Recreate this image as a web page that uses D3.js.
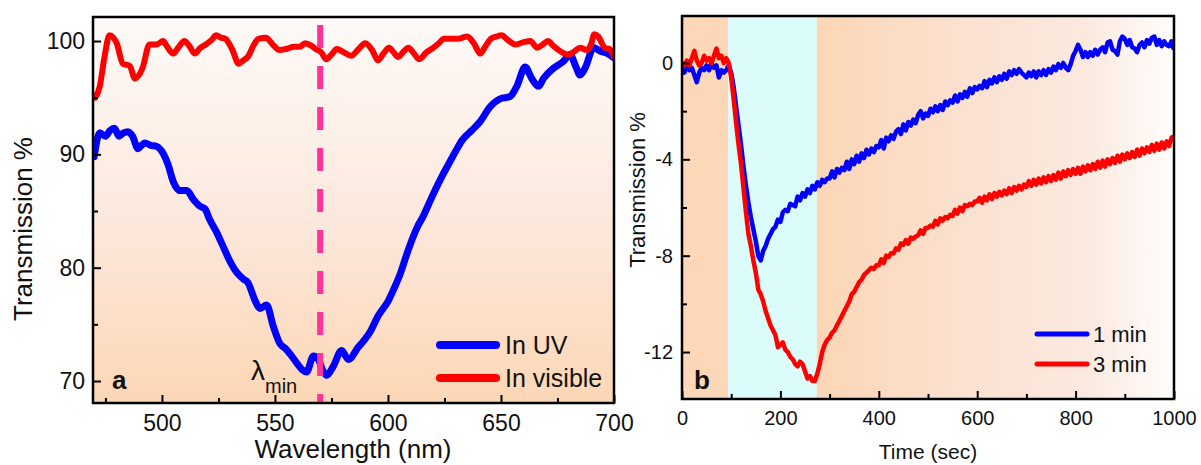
<!DOCTYPE html>
<html><head><meta charset="utf-8">
<script src="https://cdn.jsdelivr.net/npm/d3@7"></script>
<style>
html,body{margin:0;padding:0;background:#fff;}
svg{display:block;font-family:"Liberation Sans",Arial,Helvetica,sans-serif;}
</style></head><body>
<svg id="c" width="1201" height="465"></svg>
<script>
// ---------- Panel a data ----------
const wlUV = [470,472.5,475,477,479,481,483,485,487,489.4,491,492.5,495,497.7,500.5,502.7,505,508,511,514,517,519,521,524,527,530,533,536,538,541.2,543.4,546.3,549.3,552.2,555,557.4,560,562,564,567,569.2,571,572.9,575.8,579.5,582.5,586.9,589.5,592,595.8,600.2,603,605.5,608,610.5,613,615.5,618,621,624,627,630,633,637,640.8,645.2,649.6,654,657,660.7,663.6,666.6,668.8,673.2,677.6,680.6,683,685,687.2,691,694,697,700];
const uvVals = [89.8,91.9,91.6,92.1,92.3,91.6,91.9,92.0,91.6,90.5,90.8,91.0,90.8,90.7,90.1,89.1,87.6,86.8,86.8,86.0,85.4,85.2,84.3,83.2,81.9,80.6,79.6,79.0,78.7,77.1,76.4,76.7,74.8,73.3,72.8,72.2,71.5,71.0,70.8,72.2,71.9,71.0,70.5,71.3,72.7,71.9,73.0,73.6,74.3,75.8,77.1,78.3,79.5,81.0,82.4,83.6,84.5,85.6,86.9,88.1,89.2,90.3,91.3,92.1,92.9,94.2,94.9,95.1,96.0,97.7,96.7,96.0,96.7,97.6,98.2,98.8,97.8,97.0,97.6,99.4,99.1,98.9,98.5];
const wlVis = [470.5,472.5,474.5,476.8,478.5,480,482.7,485.8,488,491.4,494.5,497.7,500.5,502,505,507.5,509.9,512,514.5,517,519.4,522,524,526,528,531,534,536,538,540.5,542.7,546,549,552,555,558.4,561,563.3,566,568,570.5,572.7,575,577.4,580.5,583.7,587,590,593,595.6,598,600.5,602.5,604.5,607,609,611.5,613.8,617,620,622.5,624.8,628,631,633,635,638,640.8,643,645.5,648,650.2,653,656.5,660,663,666,668.5,670.8,673,675.5,678,680,682.5,685,688,690,691.3,693,696,698,700];
const visVals = [95.0,96.0,98.5,100.5,100.3,99.8,98.0,97.8,96.7,97.6,99.7,99.7,100.0,99.6,98.9,99.5,100.0,99.6,98.9,99.4,99.7,100.1,100.5,100.3,100.2,99.3,98.0,98.3,98.6,99.6,100.2,100.3,99.7,99.2,99.3,99.5,99.5,99.8,99.6,99.3,99.0,98.4,98.8,99.3,99.0,98.7,99.3,99.8,99.2,98.3,98.9,99.4,99.0,98.6,99.1,99.4,98.9,98.4,99.0,99.4,99.8,100.2,100.2,100.2,100.3,100.4,99.8,98.9,99.5,100.2,100.4,100.5,100.1,99.7,99.9,100.0,99.4,99.7,100.0,99.6,99.2,98.9,98.8,99.1,99.4,99.2,99.8,100.6,100.4,99.4,99.3,98.6];
const lambdaMin = 570;
const aXTicks = [500,550,600,650,700];
const aXMinor = [475,525,575,625,675];
const aYTicks = [70,80,90,100];
const aYMinor = [75,85,95];
const aLegend = ["In UV","In visible"];

// ---------- Panel b data ----------
const timeSec = d3.range(0,1001,5);
const oneMin = [
-0.2,-0.4,-0.1,-0.3,-0.2,-0.5,-0.8,-0.4,-0.2,-0.3,-0.1,-0.3,0.0,-0.2,-0.1,-0.6,-0.3,-0.4,-0.3,-0.1,
-0.4,-1.0,-1.8,-2.6,-3.4,-4.3,-5.1,-5.8,-6.4,-6.9,-7.4,-8.0,-8.2,-7.8,-7.6,-7.3,-7.1,-6.9,-6.8,-6.5,
-6.6,-6.2,-6.1,-6.15,-5.85,-5.9,-5.95,-5.55,-5.7,-5.4,-5.55,-5.25,-5.4,-5.1,-5.25,-4.95,-5.1,-4.85,-4.95,-4.8,
-4.8,-4.5,-4.75,-4.4,-4.55,-4.35,-4.45,-4.1,-4.4,-4.0,-4.2,-3.85,-4.1,-3.75,-3.95,-3.6,-3.8,-3.55,-3.7,-3.45,
-3.5,-3.2,-3.55,-3.1,-3.25,-3.0,-3.15,-2.85,-2.75,-2.95,-2.55,-2.8,-2.45,-2.6,-2.35,-2.5,-2.15,-2.0,-2.3,-2.1,
-2.2,-1.9,-2.05,-1.8,-2.0,-1.75,-1.95,-1.6,-1.75,-1.55,-1.65,-1.35,-1.6,-1.3,-1.45,-1.2,-1.4,-1.05,-1.25,-1.0,
-1.1,-0.95,-1.05,-0.75,-1.0,-0.7,-0.85,-0.6,-0.8,-0.55,-0.7,-0.45,-0.65,-0.35,-0.5,-0.3,-0.45,-0.25,-0.4,-0.5,
-0.6,-0.4,-0.55,-0.35,-0.6,-0.35,-0.5,-0.3,-0.5,-0.25,-0.4,-0.15,-0.3,-0.05,-0.2,0.0,-0.2,-0.3,-0.05,0.3,
0.5,0.75,0.55,0.25,0.45,0.25,0.45,0.3,0.55,0.35,0.55,0.65,0.45,0.85,0.9,0.55,0.5,0.35,0.9,1.1,
1.0,0.75,0.95,0.65,0.6,0.45,0.75,0.85,0.65,0.95,0.8,1.05,1.1,0.75,0.95,0.7,0.9,0.75,0.7,0.9,0.55];
const threeMin = [
0.0,-0.1,0.1,-0.1,0.2,0.5,0.1,-0.1,0.0,0.3,0.1,0.2,0.0,0.3,0.6,0.2,0.3,0.0,0.2,0.0,
-0.6,-1.5,-2.5,-3.4,-4.2,-5.2,-6.2,-7.1,-7.6,-8.2,-8.7,-9.4,-9.6,-9.9,-10.3,-10.6,-10.9,-11.1,-11.3,-11.8,
-11.7,-11.6,-11.9,-12.0,-12.2,-12.3,-12.5,-12.6,-12.4,-12.5,-12.8,-13.1,-13.0,-13.2,-13.2,-12.9,-12.5,-12.0,-11.7,-11.5,
-11.4,-11.2,-11.1,-10.9,-10.7,-10.5,-10.3,-10.1,-9.9,-9.6,-9.5,-9.3,-9.1,-9.0,-8.8,-8.7,-8.6,-8.5,-8.55,-8.4,
-8.4,-8.15,-8.3,-8.0,-8.05,-7.9,-7.9,-7.7,-7.75,-7.5,-7.55,-7.35,-7.5,-7.25,-7.3,-7.2,-7.15,-6.95,-7.1,-6.85,
-6.85,-6.75,-6.8,-6.55,-6.7,-6.45,-6.55,-6.4,-6.45,-6.3,-6.35,-6.1,-6.25,-6.0,-6.15,-5.9,-5.95,-5.85,-5.9,-5.75,
-5.75,-5.6,-5.8,-5.55,-5.7,-5.45,-5.65,-5.4,-5.55,-5.35,-5.5,-5.3,-5.45,-5.2,-5.4,-5.15,-5.3,-5.1,-5.25,-5.05,
-5.15,-4.9,-5.1,-4.85,-5.05,-4.8,-5.0,-4.75,-4.95,-4.7,-4.9,-4.65,-4.85,-4.55,-4.8,-4.5,-4.7,-4.45,-4.65,-4.4,
-4.6,-4.35,-4.6,-4.3,-4.5,-4.25,-4.45,-4.2,-4.4,-4.1,-4.35,-4.05,-4.3,-4.0,-4.2,-3.95,-4.15,-3.85,-4.1,-3.8,
-4.0,-3.75,-3.95,-3.7,-3.9,-3.6,-3.85,-3.55,-3.75,-3.5,-3.7,-3.4,-3.65,-3.35,-3.6,-3.3,-3.55,-3.25,-3.45,-3.1,-3.05];
const uvWindow = [94, 274];
const bXTicks = [0,200,400,600,800,1000];
const bXMinor = [100,300,500,700,900];
const bYTicks = [0,-4,-8,-12];
const bYMinor = [-2,-6,-10];
const bLegend = ["1 min","3 min"];

// ---------- drawing ----------
const svg = d3.select("#c");
const defs = svg.append("defs");
const BLUE = "#0000ff", RED = "#ff0000";

const gA = defs.append("linearGradient").attr("id","gradA").attr("x1",0).attr("y1",0).attr("x2",0).attr("y2",1);
gA.append("stop").attr("offset",0).attr("stop-color","#fefaf8");
gA.append("stop").attr("offset",0.5).attr("stop-color","#fce9de");
gA.append("stop").attr("offset",1).attr("stop-color","#fcd7b6");
const gB = defs.append("linearGradient").attr("id","gradB").attr("x1",0).attr("y1",0).attr("x2",1).attr("y2",0);
gB.append("stop").attr("offset",0).attr("stop-color","#fcd6b6");
gB.append("stop").attr("offset",0.45).attr("stop-color","#fbe2d2");
gB.append("stop").attr("offset",0.75).attr("stop-color","#fbe9df");
gB.append("stop").attr("offset",1).attr("stop-color","#fffdfc");

function fmt(d){ return String(d); }

function addAxes(g, x, y, xt, xm, yt, ym, fs, xpad, ypad){
  const [x0,x1] = x.range(), [y1,y0] = y.range();
  g.append("g").attr("transform",`translate(0,${y1})`)
    .call(d3.axisBottom(x).tickValues(xt).tickSizeInner(-8).tickSizeOuter(0).tickPadding(xpad).tickFormat(fmt));
  g.append("g").attr("transform",`translate(0,${y1})`)
    .call(d3.axisBottom(x).tickValues(xm).tickSizeInner(-5).tickSizeOuter(0).tickFormat(""));
  g.append("g").attr("transform",`translate(${x0},0)`)
    .call(d3.axisLeft(y).tickValues(yt).tickSizeInner(-8).tickSizeOuter(0).tickPadding(ypad).tickFormat(fmt));
  g.append("g").attr("transform",`translate(${x0},0)`)
    .call(d3.axisLeft(y).tickValues(ym).tickSizeInner(-5).tickSizeOuter(0).tickFormat(""));
  g.selectAll(".domain").remove();
  g.selectAll(".tick line").attr("stroke","#000").attr("stroke-width",2);
  g.selectAll(".tick text").attr("font-size",fs).attr("fill","#111")
    .attr("font-family",'"Liberation Sans",Arial,sans-serif');
  g.append("rect").attr("x",x0).attr("y",y0).attr("width",x1-x0).attr("height",y1-y0)
    .attr("fill","none").attr("stroke","#000").attr("stroke-width",2.5);
}

// ===== Panel a =====
const xA = d3.scaleLinear().domain([469.5,700]).range([93,614]);
const yA = d3.scaleLinear().domain([68.06,102.12]).range([403,17]);
const pa = svg.append("g");
pa.append("rect").attr("x",93).attr("y",17).attr("width",614-93).attr("height",403-17).attr("fill","url(#gradA)");
defs.append("clipPath").attr("id","clipA").append("rect").attr("x",93).attr("y",17).attr("width",614-93).attr("height",403-17);
const lineA = d3.line().x(d=>xA(d[0])).y(d=>yA(d[1])).curve(d3.curveMonotoneX);
const gl = pa.append("g").attr("clip-path","url(#clipA)");
gl.append("path").datum(d3.zip(wlUV,uvVals)).attr("d",lineA).attr("fill","none").attr("stroke",BLUE).attr("stroke-width",7).attr("stroke-linejoin","round").attr("stroke-linecap","round");
gl.append("path").datum(d3.zip(wlVis,visVals)).attr("d",lineA).attr("fill","none").attr("stroke",RED).attr("stroke-width",6).attr("stroke-linejoin","round").attr("stroke-linecap","round");
gl.append("line").attr("x1",xA(lambdaMin)).attr("x2",xA(lambdaMin)).attr("y1",25).attr("y2",403)
  .attr("stroke","#ff3399").attr("stroke-width",6).attr("stroke-dasharray","23 18");
addAxes(pa, xA, yA, aXTicks, aXMinor, aYTicks, aYMinor, 23, 12, 8);
pa.append("text").attr("x",353).attr("y",458).attr("text-anchor","middle").attr("font-size",26).attr("fill","#111").text("Wavelength (nm)");
pa.append("text").attr("transform","translate(32,229) rotate(-90)").attr("text-anchor","middle").attr("font-size",26).attr("fill","#111").text("Transmission %");
pa.append("text").attr("x",112).attr("y",389).attr("font-size",26).attr("font-weight","bold").attr("fill","#111").text("a");
const lam = pa.append("text").attr("x",251).attr("y",380).attr("font-size",28).attr("fill","#111").text("λ");
lam.append("tspan").attr("dy",13).attr("font-size",20).text("min");
[[BLUE,345],[RED,378]].forEach((c,i)=>{
  pa.append("line").attr("x1",440).attr("x2",496).attr("y1",c[1]).attr("y2",c[1]).attr("stroke",c[0]).attr("stroke-width",8).attr("stroke-linecap","round");
  pa.append("text").attr("x",505).attr("y",c[1]+9).attr("font-size",25).attr("fill","#111").text(aLegend[i]);
});

// ===== Panel b =====
const xB = d3.scaleLinear().domain([0,1000]).range([682,1174]);
const yB = d3.scaleLinear().domain([-13.95,1.95]).range([399,16]);
const pb = svg.append("g");
pb.append("rect").attr("x",682).attr("y",16).attr("width",xB(uvWindow[0])-682).attr("height",383).attr("fill","#fcd8b9");
pb.append("rect").attr("x",xB(uvWindow[0])).attr("y",16).attr("width",xB(uvWindow[1])-xB(uvWindow[0])).attr("height",383).attr("fill","#dcfbfb");
pb.append("rect").attr("x",xB(uvWindow[1])).attr("y",16).attr("width",1174-xB(uvWindow[1])).attr("height",383).attr("fill","url(#gradB)");
defs.append("clipPath").attr("id","clipB").append("rect").attr("x",682).attr("y",16).attr("width",492).attr("height",383);
const lineB = d3.line().x(d=>xB(d[0])).y(d=>yB(d[1])).curve(d3.curveLinear);
const gb = pb.append("g").attr("clip-path","url(#clipB)");
gb.append("path").datum(d3.zip(timeSec,oneMin)).attr("d",lineB).attr("fill","none").attr("stroke",BLUE).attr("stroke-width",4.5).attr("stroke-linejoin","round");
gb.append("path").datum(d3.zip(timeSec,threeMin)).attr("d",lineB).attr("fill","none").attr("stroke",RED).attr("stroke-width",4.5).attr("stroke-linejoin","round");
addAxes(pb, xB, yB, bXTicks, bXMinor, bYTicks, bYMinor, 20, 12, 9);
pb.append("text").attr("x",928).attr("y",459).attr("text-anchor","middle").attr("font-size",21).attr("fill","#111").text("Time (sec)");
pb.append("text").attr("transform","translate(645,190) rotate(-90)").attr("text-anchor","middle").attr("font-size",22).attr("fill","#111").text("Transmission %");
pb.append("text").attr("x",694).attr("y",389).attr("font-size",26).attr("font-weight","bold").attr("fill","#111").text("b");
[[BLUE,334],[RED,364]].forEach((c,i)=>{
  pb.append("line").attr("x1",1037).attr("x2",1087).attr("y1",c[1]).attr("y2",c[1]).attr("stroke",c[0]).attr("stroke-width",5).attr("stroke-linecap","round");
  pb.append("text").attr("x",1093).attr("y",c[1]+8).attr("font-size",22).attr("fill","#111").text(bLegend[i]);
});
</script>
</body></html>
